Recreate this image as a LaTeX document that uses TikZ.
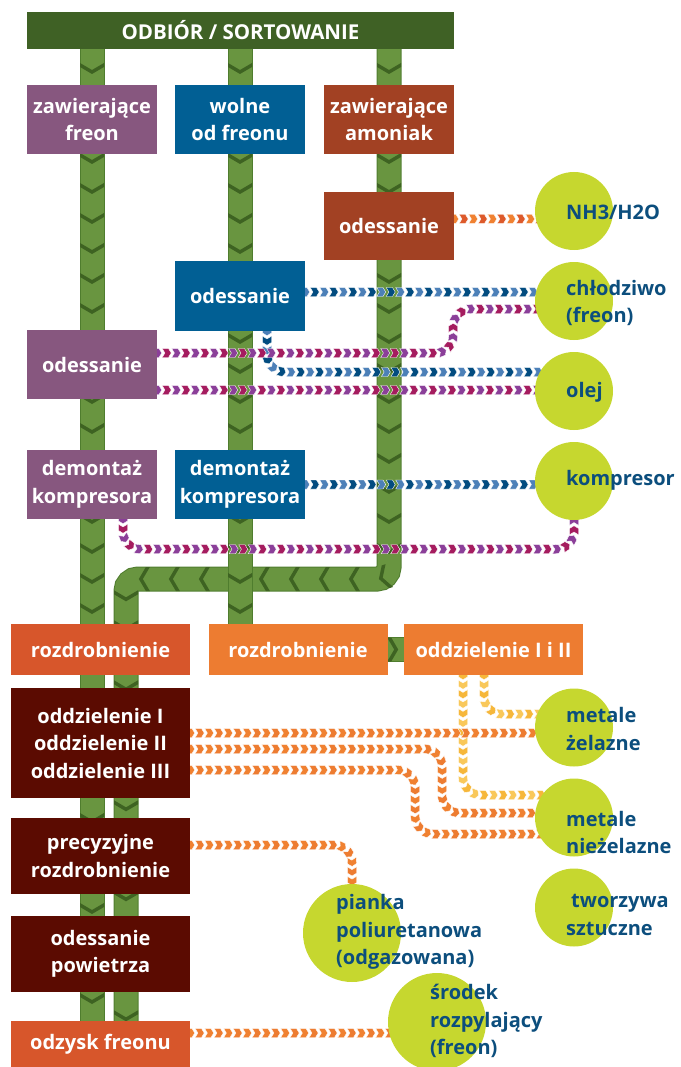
\documentclass[tikz,border=0pt]{standalone}
\usepackage{fontspec}
\setmainfont{Open Sans}
\usetikzlibrary{decorations.markings,calc}

\definecolor{cBar}{HTML}{3F6125}
\definecolor{pipeGreen}{HTML}{699540}
\definecolor{pipeEdge}{HTML}{4F7D2E}
\definecolor{pipeDark}{HTML}{3E6322}
\definecolor{cPurple}{HTML}{87577F}
\definecolor{cBlue}{HTML}{015F94}
\definecolor{cRust}{HTML}{A24123}
\definecolor{cRed}{HTML}{D7562B}
\definecolor{cOrange}{HTML}{ED7C31}
\definecolor{cMaroon}{HTML}{5B0B01}
\definecolor{cLime}{HTML}{C6D72F}
\definecolor{cText}{HTML}{0C4E7D}
\definecolor{orA}{HTML}{F08131}
\definecolor{orB}{HTML}{DD5A2B}
\definecolor{blA}{HTML}{4C80B8}
\definecolor{blB}{HTML}{024C80}
\definecolor{puA}{HTML}{8B3F99}
\definecolor{puB}{HTML}{A51C5F}
\definecolor{yeA}{HTML}{F6B73A}
\definecolor{yeB}{HTML}{F9C85A}

\pgfdeclarelayer{pipes}
\pgfdeclarelayer{flows}
\pgfsetlayers{pipes,flows,main}

\tikzset{
  boxfont/.style={font=\bfseries\fontsize{20}{27.5}\selectfont},
  bar/.style={rectangle, fill=cBar, text=white, font=\bfseries\fontsize{20.5}{24}\selectfont,
    inner sep=0pt, minimum width=427pt, minimum height=37pt},
  box/.style={rectangle, text=white, boxfont, align=center, inner sep=0pt,
    minimum width=130pt, minimum height=69pt},
  wbox/.style={rectangle, text=white, boxfont, align=center, inner sep=0pt,
    minimum width=179pt},
  dot/.style={circle, fill=cLime, inner sep=0pt, minimum size=78pt},
  bigdot/.style={dot, minimum size=98pt},
  ctext/.style={text=cText, boxfont, align=left, inner sep=0pt, anchor=west},
  % thick green conveyor with chevrons pointing along the flow
  pipe/.style={line width=25pt, draw=pipeEdge,
    postaction={draw=pipeGreen, line width=23pt},
    postaction={decorate, decoration={markings,
      mark=between positions #1 and 1 step 30pt with {
        \fill[pipeDark, sharp corners] (-5pt,12pt) -- (2pt,0pt) -- (-5pt,-12pt)
          -- (-9pt,-12pt) -- (-2pt,0pt) -- (-9pt,12pt) -- cycle;}}}},
  % dotted material stream made of two-tone arrow chips
  flow/.style n args={2}{postaction={decorate, decoration={markings,
      mark=between positions 0 and 1 step 9.5pt with {
        \ifodd\pgfkeysvalueof{/pgf/decoration/mark info/sequence number}\relax
          \def\chipcol{#1}\else\def\chipcol{#2}\fi
        \filldraw[fill=\chipcol, draw=white, line width=0.4pt, sharp corners]
          (-4.5pt,-4.5pt) -- (1.8pt,-4.5pt) -- (4.5pt,0pt) -- (1.8pt,4.5pt)
          -- (-4.5pt,4.5pt) -- (-1.8pt,0pt) -- cycle;}}}},
  rc/.style={rounded corners=18pt}
}

\begin{document}
\begin{tikzpicture}[x=1pt,y=-1pt]
\useasboundingbox (0,0) rectangle (680,1067);

% ---- process boxes ----
\node[bar] (bar) at (240.5,30.5) {ODBIÓR / SORTOWANIE};
\node[box, fill=cPurple] (zf) at (92,119.5) {zawierające\\freon};
\node[box, fill=cBlue] (wf) at (240,119.5) {wolne\\od freonu};
\node[box, fill=cRust] (za) at (389,119.5) {zawierające\\amoniak};
\node[box, fill=cRust, minimum height=68pt] (odR) at (389,226) {odessanie};
\node[box, fill=cBlue, minimum height=70pt] (odB) at (240,296) {odessanie};
\node[box, fill=cPurple] (odP) at (92,364.5) {odessanie};
\node[box, fill=cPurple] (demP) at (92,484.5) {demontaż\\kompresora};
\node[box, fill=cBlue] (demB) at (240,484.5) {demontaż\\kompresora};

\node[wbox, fill=cRed, minimum height=51pt] (rozL) at (100.5,649.5) {rozdrobnienie};
\node[wbox, fill=cOrange, minimum height=51pt] (rozM) at (298,649.5) {rozdrobnienie};
\node[wbox, fill=cOrange, minimum height=51pt] (sepM) at (493.5,649.5) {oddzielenie I i II};
\node[wbox, fill=cMaroon, minimum height=110pt] (sep) at (100.5,743) {oddzielenie I\\oddzielenie II\\oddzielenie III};
\node[wbox, fill=cMaroon, minimum height=76pt] (prec) at (100.5,856) {precyzyjne\\rozdrobnienie};
\node[wbox, fill=cMaroon, minimum height=76pt] (odPow) at (100.5,954) {odessanie\\powietrza};
\node[wbox, fill=cRed, minimum height=46pt] (odz) at (100.5,1044) {odzysk freonu};

% ---- output fractions ----
\node[dot] (nh3) at (574,211) {};
\node[dot] (chl) at (574,301) {};
\node[dot] (olej) at (574,391) {};
\node[dot] (komp) at (574,481) {};
\node[dot] (mz) at (574,727.5) {};
\node[dot] (mn) at (574,817.5) {};
\node[dot] (tw) at (574,907.5) {};
\node[bigdot] (pian) at (352,933) {};
\node[bigdot] (srod) at (437,1022) {};

\node[ctext] (tnh3) at (566,212) {NH3/H2O};
\node[ctext] (tchl) at (566,303) {chłodziwo\\(freon)};
\node[ctext] (tolej) at (566,392) {olej};
\node[ctext] (tkomp) at (566,480) {kompresor};
\node[ctext] (tmz) at (566,729) {metale\\żelazne};
\node[ctext] (tmn) at (566,832.5) {metale\\nieżelazne};
\node[ctext] (ttw) at (566,915) {\hspace*{5pt}tworzywa\\sztuczne};
\node[ctext] (tpian) at (336,932) {pianka\\poliuretanowa\\(odgazowana)};
\node[ctext] (tsrod) at (430,1021) {środek\\rozpylający\\(freon)};

\coordinate (bendR) at (389,579);
\coordinate (bendL) at (126,579);

% ---- conveyors ----
\begin{pgfonlayer}{pipes}
  \draw[pipe=41.5pt, rounded corners=12pt] (za.center |- bar.center) -- (bendR) -- (bendL) -- (bendL |- odz.center);
  \draw[pipe=41.5pt] (zf.center |- bar.center) -- (zf.center |- odz.center);
  \draw[pipe=41.5pt] (wf.center |- bar.center) -- (wf.center |- rozM.center);
  \draw[pipe=8.5pt] (rozM.east) -- (sepM.west);
\end{pgfonlayer}

% ---- material streams ----
\begin{pgfonlayer}{flows}
  \path[flow={orA}{orB}] ($(odR.east)+(0,-7)$) -- ($(odR.east -| nh3.center)+(0,-7)$);
  \path[flow={blA}{blB}] ($(odB.east)+(0,-4)$) -- ($(odB.east -| chl.center)+(0,-4)$);
  \path[flow={blA}{blB}, rc] ($(odB.south)+(27,0)$) |- ($(olej.center)+(0,-19)$);
  \path[flow={puA}{puB}, rc] ($(odP.east)+(0,-11.5)$) -- ++(296,0) |- ($(chl.center)+(0,8)$);
  \path[flow={puA}{puB}] ($(odP.east)+(0,25.5)$) -- ($(odP.east -| olej.center)+(0,25.5)$);
  \path[flow={blA}{blB}] (demB.east) -- (demB.east -| komp.center);
  \path[flow={puA}{puB}, rc] ($(demP.south)+(31,0)$) -- ++(0,30) -| (komp.center);

  \path[flow={yeA}{yeB}, rc] ($(sepM.south)+(-30.5,0)$) |- ($(mn.center)+(0,-22.5)$);
  \path[flow={yeA}{yeB}, rc] ($(sepM.south)+(-9.5,0)$) |- ($(mz.center)+(0,-13.5)$);
  \path[flow={orA}{cOrange}] ($(sep.east)+(0,-10)$) -- ($(sep.east -| mz.center)+(0,-10)$);
  \path[flow={orA}{cOrange}, rc] ($(sep.east)+(0,6)$) -- ++(252,0) |- ($(mn.center)+(0,-4.5)$);
  \path[flow={orA}{cOrange}, rc] ($(sep.east)+(0,27)$) -- ++(225,0) |- ($(mn.center)+(0,16.5)$);
  \path[flow={orA}{cOrange}, rc] ($(prec.east)+(0,-11)$) -| (pian.center);
  \path[flow={orA}{cOrange}] ($(odz.east)+(0,-11)$) -- ($(odz.east -| srod.center)+(0,-11)$);
\end{pgfonlayer}
\end{tikzpicture}
\end{document}
